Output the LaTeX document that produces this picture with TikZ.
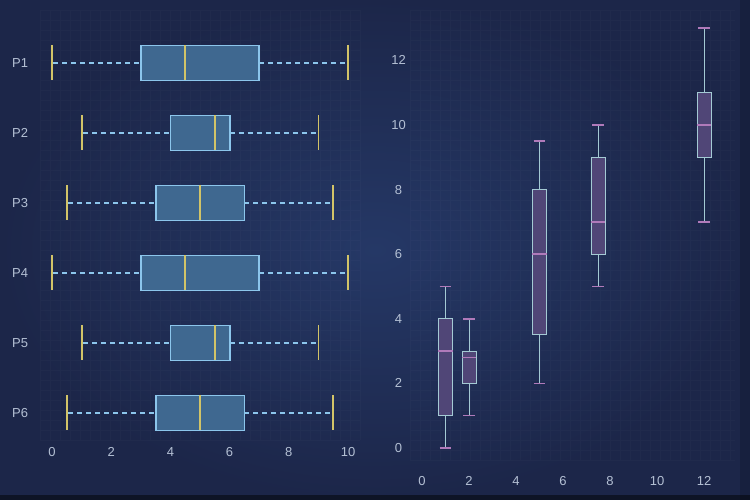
\documentclass[tikz,border=0pt]{standalone}
\usepackage{fontspec}
\setmainfont{Liberation Sans}
\definecolor{bgmid}{HTML}{253866}
\definecolor{bgedge}{HTML}{1C2649}
\definecolor{axtext}{HTML}{B4C0D4}
\definecolor{hfill}{HTML}{3F6890}
\definecolor{hedge}{HTML}{8CC6EC}
\definecolor{hmed}{HTML}{D2C468}
\definecolor{vfill}{HTML}{504677}
\definecolor{vedge}{HTML}{A4CAD4}
\definecolor{vmed}{HTML}{B07ABA}
\tikzset{
    ticklabel/.style={text=axtext, font=\fontsize{13}{15}\selectfont},
    hbox/.style={draw=hedge, fill=hfill, line width=1.8pt},
    hwhisk/.style={hedge, dashed, dash pattern=on 5pt off 4pt, line width=1.4pt},
    hcap/.style={hmed, line width=1.8pt},
    vbox/.style={draw=vedge, fill=vfill, line width=0.9pt},
    vwhisk/.style={vedge, line width=0.9pt},
    vcap/.style={vmed, line width=1.6pt},
}
\begin{document}
\begin{tikzpicture}[x=1pt, y=1pt]
    \useasboundingbox (0,0) rectangle (750,500);
    % Background
    \shade[inner color=bgmid, outer color=bgedge] (0,0) rectangle (750,500);
    \fill[black, opacity=0.15] (740,0) rectangle (750,500);
    \fill[black!80!bgedge, opacity=0.6] (0,0) rectangle (750,5);

    % Grid
    \draw[step=10, white, opacity=0.02, line width=0.5pt] (40,60) grid (360,490);
    \draw[step=10, white, opacity=0.02, line width=0.5pt] (410,40) grid (735,490);

    % Left panel: horizontal boxes
    \begin{scope}[shift={(52,437)}, x=29.6pt, y=-70pt]
        \foreach \lo/\qa/\med/\qb/\hi [count=\k from 0] in
            {0/3/4.5/7/10, 1/4/5.5/6/9, 0.5/3.5/5/6.5/9.5,
             0/3/4.5/7/10, 1/4/5.5/6/9, 0.5/3.5/5/6.5/9.5} {
            \draw[hwhisk] (\lo+0.05,\k) -- (\qa,\k);
            \draw[hwhisk] (\qb,\k) -- (\hi-0.05,\k);
            \draw[hbox] (\qa,\k-0.25) rectangle (\qb,\k+0.25);
            \draw[hcap] (\med,\k-0.25) -- (\med,\k+0.25);
            \draw[hcap] (\lo,\k-0.25) -- (\lo,\k+0.25);
            \draw[hcap] (\hi,\k-0.25) -- (\hi,\k+0.25);
        }
        \foreach \k in {1,...,6} {
            \node[ticklabel] (row\k) at (-1.08,\k-1) {P\k};
        }
        \foreach \t in {0,2,...,10} {
            \node[ticklabel] (lx\t) at (\t,5.56) {\t};
        }
    \end{scope}

    % Right panel: vertical boxes
    \begin{scope}[shift={(422,52)}, x=23.5pt, y=32.3pt]
        \foreach \p/\lo/\qa/\med/\qb/\hi in
            {1/0/1/3/4/5, 2/1/2/2.8/3/4, 5/2/3.5/6/8/9.5,
             7.5/5/6/7/9/10, 12/7/9/10/11/13} {
            \draw[vwhisk] (\p,\lo) -- (\p,\qa);
            \draw[vwhisk] (\p,\qb) -- (\p,\hi);
            \draw[vbox] (\p-0.3,\qa) rectangle (\p+0.3,\qb);
            \draw[vcap] (\p-0.3,\med) -- (\p+0.3,\med);
            \draw[vcap] (\p-0.25,\lo) -- (\p+0.25,\lo);
            \draw[vcap] (\p-0.25,\hi) -- (\p+0.25,\hi);
        }
        \foreach \t in {0,2,...,12} {
            \node[ticklabel] (rx\t) at (\t,-1.02) {\t};
            \node[ticklabel] (ry\t) at (-1.0,\t) {\t};
        }
    \end{scope}
\end{tikzpicture}
\end{document}
